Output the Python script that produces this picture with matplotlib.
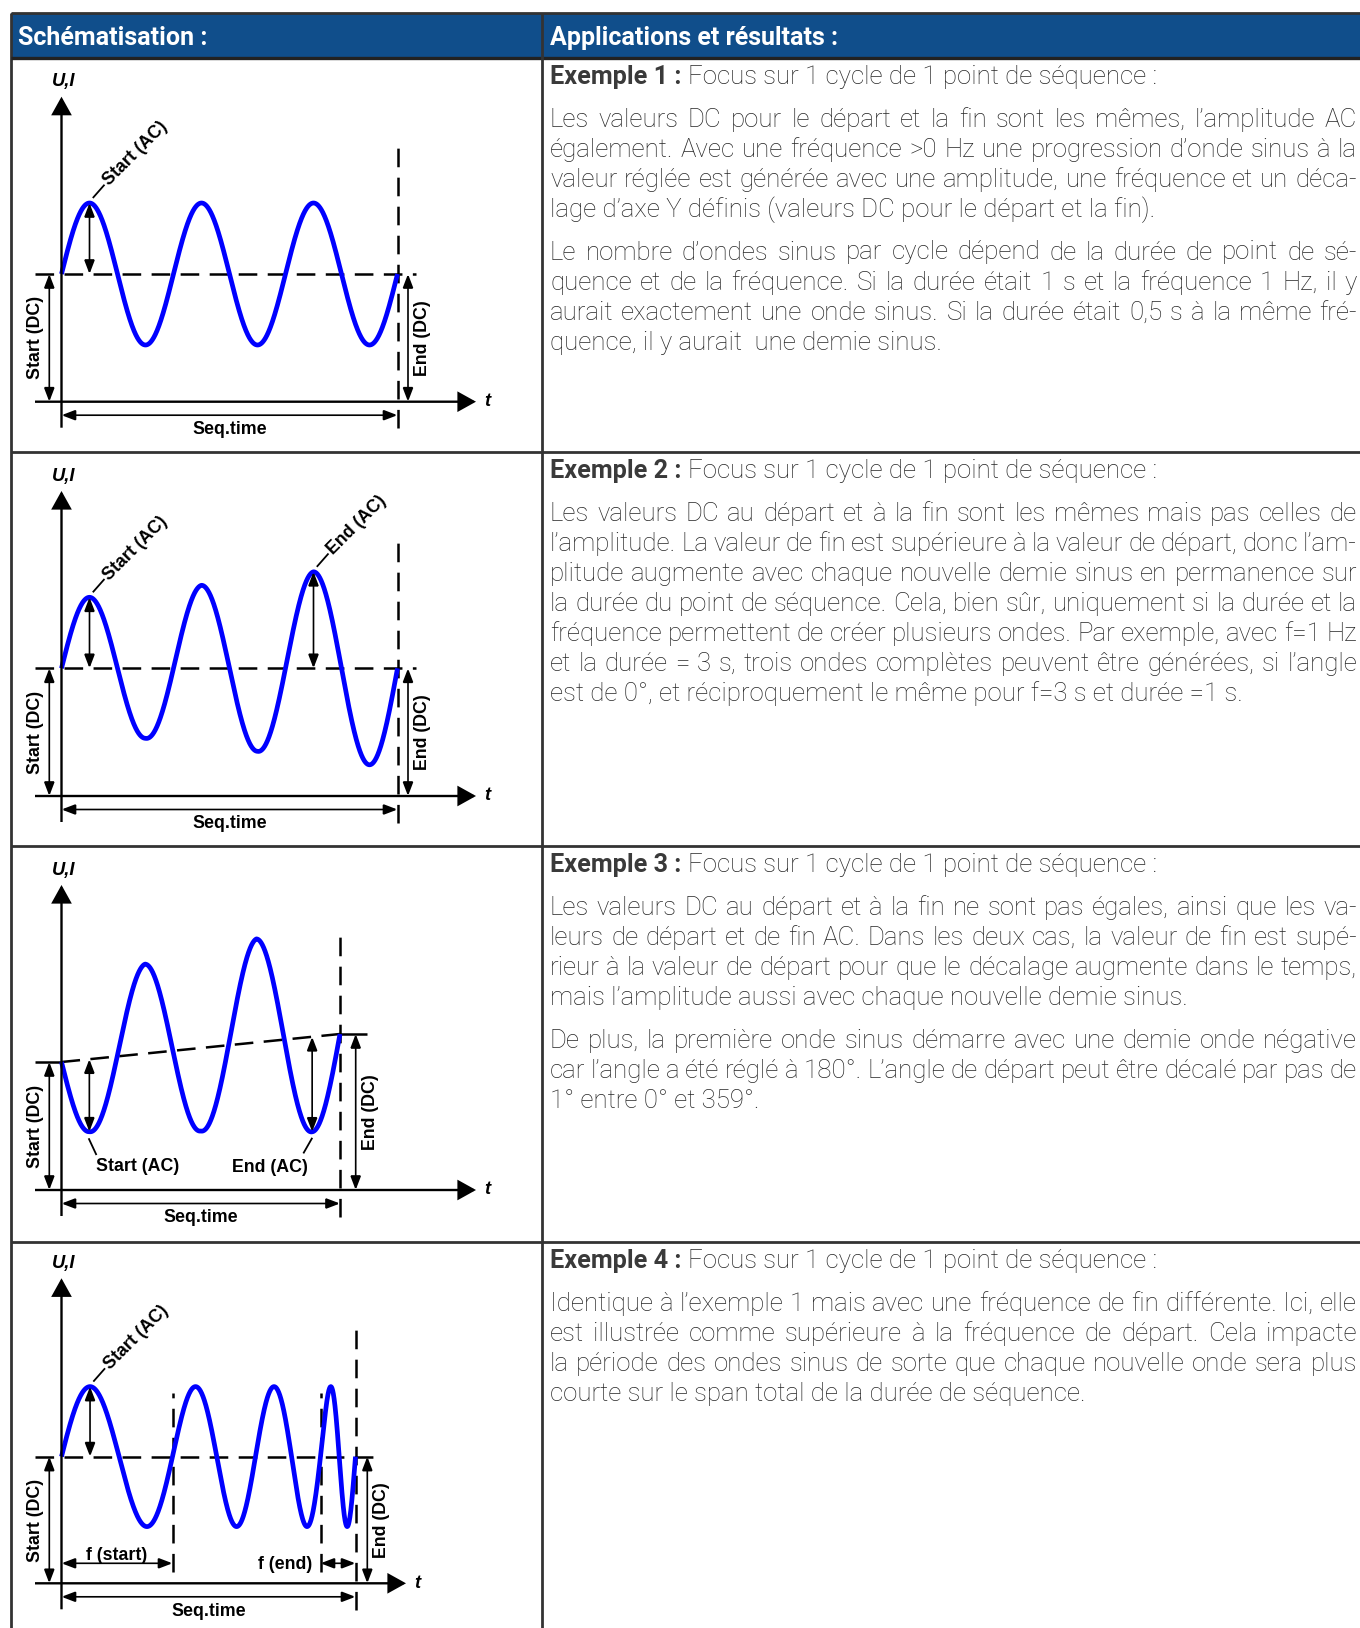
import numpy as np
import matplotlib
matplotlib.use("Agg")
import matplotlib.pyplot as plt
from matplotlib.patches import Rectangle, FancyArrowPatch

plt.rcParams['lines.scale_dashes'] = False
plt.rcParams['lines.solid_capstyle'] = 'butt'
plt.rcParams['lines.dash_capstyle'] = 'butt'

# ------------------------------------------------------------------ data
header_left = "Schématisation :"
header_right = "Applications et résultats :"

example_titles = ["Exemple 1 :", "Exemple 2 :", "Exemple 3 :", "Exemple 4 :"]
example_subtitle = "Focus sur 1 cycle de 1 point de séquence :"

example_1_text = [
    ["Les valeurs DC pour le départ et la fin sont les mêmes, l’amplitude AC",
     "également. Avec une fréquence >0 Hz une progression d’onde sinus à la",
     "valeur réglée est générée avec une amplitude, une fréquence et un déca-",
     "lage d’axe Y définis (valeurs DC pour le départ et la fin)."],
    ["Le nombre d’ondes sinus par cycle dépend de la durée de point de sé-",
     "quence et de la fréquence. Si la durée était 1 s et la fréquence 1 Hz, il y",
     "aurait exactement une onde sinus. Si la durée était 0,5 s à la même fré-",
     "quence, il y aurait  une demie sinus."],
]
example_2_text = [
    ["Les valeurs DC au départ et à la fin sont les mêmes mais pas celles de",
     "l’amplitude. La valeur de fin est supérieure à la valeur de départ, donc l’am-",
     "plitude augmente avec chaque nouvelle demie sinus en permanence sur",
     "la durée du point de séquence. Cela, bien sûr, uniquement si la durée et la",
     "fréquence permettent de créer plusieurs ondes. Par exemple, avec f=1 Hz",
     "et la durée = 3 s, trois ondes complètes peuvent être générées, si l’angle",
     "est de 0°, et réciproquement le même pour f=3 s et durée =1 s."],
]
example_3_text = [
    ["Les valeurs DC au départ et à la fin ne sont pas égales, ainsi que les va-",
     "leurs de départ et de fin AC. Dans les deux cas, la valeur de fin est supé-",
     "rieur à la valeur de départ pour que le décalage augmente dans le temps,",
     "mais l’amplitude aussi avec chaque nouvelle demie sinus."],
    ["De plus, la première onde sinus démarre avec une demie onde négative",
     "car l’angle a été réglé à 180°. L’angle de départ peut être décalé par pas de",
     "1° entre 0° et 359°."],
]
example_4_text = [
    ["Identique à l’exemple 1 mais avec une fréquence de fin différente. Ici, elle",
     "est illustrée comme supérieure à la fréquence de départ. Cela impacte",
     "la période des ondes sinus de sorte que chaque nouvelle onde sera plus",
     "courte sur le span total de la durée de séquence."],
]
example_texts = [example_1_text, example_2_text, example_3_text, example_4_text]

# waveform parameters per example (diagram units)
seq_time = [336.0, 336.0, 278.5, 294.0]
dc_start = [127.7, 127.7, 128.0, 126.7]
dc_end = [127.7, 127.7, 156.0, 126.7]
wave_count = [3.0, 3.0, 2.5, 4.0]
start_angle = [0, 0, 180, 0]
amp_ex1 = [71, 71, 71, 71, 71, 71]
amp_ex2 = [71, 70, 83, 83, 96.5, 96.5]
amp_ex3 = [72.5, 89.5, 83, 103.5, 95]
amp_ex4 = [70, 70, 70, 70, 70, 70, 70, 70]
periods_ex4 = [111, 83, 65, 35]

# ------------------------------------------------------------------ layout
W, H = 1360, 1628
TABLE_L, TABLE_T, HEAD_B, COL_X = 10.7, 13.3, 57.7, 541.5
row_tops = [57.7, 451.7, 846.0, 1241.7]
axis_y = [401.7, 796.0, 1190.0, 1583.3]
X0 = 61.5
T_START = 35.0
t_axis_end = [476, 476, 476, 406]
dc_line_end = [416, 416, 367, 377]
end_dc_x = [408, 408, 355.7, 367.3]

HEAD_BLUE = '#104E8B'
BORDER = '#333333'
WAVE = '#0000FF'
DASH = (0, (13.4, 7.5))
LW_DASH = 1.8
LW_AX = 1.7

DIAG = dict(family=['Liberation Sans', 'DejaVu Sans'], fontweight='bold',
            fontsize=12.8, color='black')
DIAG_I = dict(family=['Liberation Sans', 'DejaVu Sans'], fontweight='bold',
              style='italic', fontsize=13.2, color='black')
BODY = dict(family=['Roboto', 'DejaVu Sans'], fontweight='light',
            fontsize=18.6, color='#262626')
TITLE_B = dict(family=['Roboto', 'DejaVu Sans'], fontweight='bold',
               fontsize=18.2, color='#3a3a3a')
HEAD = dict(family=['Roboto', 'DejaVu Sans'], fontweight='bold',
            fontsize=18, color='white')

fig = plt.figure(figsize=(W / 100, H / 100), dpi=100)
ax = fig.add_axes([0, 0, 1, 1])
ax.set_xlim(0, W)
ax.set_ylim(H, 0)
ax.axis('off')
renderer = fig.canvas.get_renderer()

# ------------------------------------------------------------------ table
ax.add_patch(Rectangle((TABLE_L, TABLE_T), W + 20 - TABLE_L, HEAD_B - TABLE_T,
                       facecolor=HEAD_BLUE, edgecolor='none', zorder=0))
lw_b = 2.0
ax.plot([TABLE_L, TABLE_L], [TABLE_T, H + 5], color=BORDER, lw=lw_b)
ax.plot([TABLE_L, W + 5], [TABLE_T, TABLE_T], color=BORDER, lw=lw_b)
ax.plot([TABLE_L, W + 5], [HEAD_B, HEAD_B], color='#222222', lw=2.4)
for rt in row_tops[1:]:
    ax.plot([TABLE_L, W + 5], [rt, rt], color=BORDER, lw=lw_b)
ax.plot([COL_X, COL_X], [TABLE_T, H + 5], color=BORDER, lw=lw_b)

ax.text(18.3, 45, header_left, ha='left', va='baseline', **HEAD)
ax.text(550, 45, header_right, ha='left', va='baseline', **HEAD)


# ------------------------------------------------------------------ text helpers
def text_width(s, props):
    t = ax.text(0, 0, s, **props)
    w = t.get_window_extent(renderer=renderer).width
    t.remove()
    return w


def draw_line(xl, xr, y, line, props, justify):
    if not justify:
        ax.text(xl, y, line, ha='left', va='baseline', **props)
        return
    words = line.split(' ')
    ws = [text_width(w, props) for w in words]
    gap = (xr - xl - sum(ws)) / (len(words) - 1)
    x = xl
    for w, wd in zip(words, ws):
        ax.text(x, y, w, ha='left', va='baseline', **props)
        x += wd + gap


TXT_L, TXT_R = 550.0, 1357.0
LINE_H = 30.1
PARA_GAP = 12.4
for k, rt in enumerate(row_tops):
    yb = rt + 26.2
    ax.text(TXT_L, yb, example_titles[k], ha='left', va='baseline', **TITLE_B)
    wb = text_width(example_titles[k], TITLE_B)
    sp = text_width('a a', BODY) - text_width('aa', BODY)
    ax.text(TXT_L + wb + sp, yb, example_subtitle, ha='left', va='baseline', **BODY)
    y = rt + 69.0
    for p, para in enumerate(example_texts[k]):
        if p > 0:
            y += PARA_GAP
        for j, line in enumerate(para):
            draw_line(TXT_L, TXT_R, y, line, BODY, j < len(para) - 1)
            y += LINE_H


# ------------------------------------------------------------------ diagram helpers
def X(t):
    return X0 + np.asarray(t)


def Y(i, v):
    return axis_y[i] - np.asarray(v)


DIM = '<|-|>,head_length=0.84,head_width=0.32'
AXS = '-|>,head_length=1.08,head_width=0.6'


def arrow(x1, y1, x2, y2, style, lw=1.2, ms=10):
    p = FancyArrowPatch((x1, y1), (x2, y2), arrowstyle=style, mutation_scale=ms,
                        lw=lw, color='black', shrinkA=0, shrinkB=0,
                        joinstyle='miter', capstyle='butt', zorder=4)
    ax.add_patch(p)


def linear_cycles(i):
    return lambda t: np.asarray(t) / seq_time[i] * wave_count[i]


def hermite_cycles(periods):
    xs = np.concatenate([[0.0], np.cumsum(periods)])
    ys = np.arange(len(xs), dtype=float)
    per = np.asarray(periods, float)
    m = np.empty(len(xs))
    m[0] = 1.0 / per[0]
    m[-1] = 1.0 / per[-1]
    m[1:-1] = 2.0 / (per[:-1] + per[1:])

    def f(t):
        t = np.asarray(t, float)
        k = np.clip(np.searchsorted(xs, t, side='right') - 1, 0, len(per) - 1)
        h = xs[k + 1] - xs[k]
        s = (t - xs[k]) / h
        h00 = 2 * s**3 - 3 * s**2 + 1
        h10 = s**3 - 2 * s**2 + s
        h01 = -2 * s**3 + 3 * s**2
        h11 = s**3 - s**2
        return h00 * ys[k] + h10 * h * m[k] + h01 * ys[k + 1] + h11 * h * m[k + 1]
    return f


def wave(i, amps, cyc_fn):
    L = seq_time[i]
    t = np.linspace(0, L, 3000)
    cyc = cyc_fn(t)
    centres = 0.25 + 0.5 * np.arange(len(amps))
    A = np.interp(cyc, centres, amps)
    dc = dc_start[i] + (dc_end[i] - dc_start[i]) * t / L
    v = dc + A * np.sin(2 * np.pi * cyc + np.radians(start_angle[i]))
    return t, v, cyc, dc


def extremum(t, v, cyc, dc, c):
    te = np.interp(c, cyc, t)
    return te, np.interp(te, t, v), np.interp(te, t, dc)


def frame(i):
    ay = axis_y[i]
    L = seq_time[i]
    arrow(X0, ay + 26, X0, ay - 305, AXS, lw=LW_AX)
    ax.text(X0 + 2, ay - 320, 'U,I', ha='center', va='center', **DIAG_I)
    arrow(T_START, ay, t_axis_end[i], ay, AXS, lw=LW_AX)
    ax.text(t_axis_end[i] + 11.5, ay, 't', ha='center', va='center', **DIAG_I)
    ax.plot([X(L), X(L)], [ay + 26.5, ay - 256], color='k', lw=LW_DASH, linestyle=DASH, zorder=2)
    # start DC
    arrow(49.3, ay, 49.3, Y(i, dc_start[i]), DIM)
    ax.text(35, ay - dc_start[i] / 2, 'Start (DC)', rotation=90, ha='center', va='center', **DIAG)
    # end DC
    arrow(end_dc_x[i], ay, end_dc_x[i], Y(i, dc_end[i]), DIM)
    ax.text(end_dc_x[i] + 14.5, ay - dc_end[i] / 2, 'End (DC)', rotation=90,
            ha='center', va='center', **DIAG)
    # seq time
    arrow(X0, ay + 13.5, X(L), ay + 13.5, DIM)
    ax.text((X0 + X(L)) / 2, ay + 32.3, 'Seq.time', ha='center', va='baseline', **DIAG)


def ac_peak(i, te, ve, dce, label):
    x, y = X(te), Y(i, ve)
    arrow(x, Y(i, dce), x, y, DIM)
    ax.plot([x + 3.3, x + 15], [y - 5, y - 18.3], color='k', lw=1.3)
    ax.text(x + 16.5, y - 19.8, label, rotation=45, rotation_mode='anchor',
            ha='left', va='center', **DIAG)


def ac_trough(i, te, ve, dce, label, right):
    x, y = X(te), Y(i, ve)
    arrow(x, Y(i, dce), x, y, DIM)
    if right:
        ax.plot([x - 0.7, x + 7.1], [y + 6.6, y + 23.3], color='k', lw=1.3)
        ax.text(x + 48, y + 39.7, label, ha='center', va='baseline', **DIAG)
    else:
        ax.plot([x + 0.1, x - 8.8], [y + 6, y + 21.6], color='k', lw=1.3)
        ax.text(x - 42.4, y + 39.7, label, ha='center', va='baseline', **DIAG)


amps_all = [amp_ex1, amp_ex2, amp_ex3, amp_ex4]
for i in range(4):
    ay = axis_y[i]
    L = seq_time[i]
    frame(i)
    cyc_fn = hermite_cycles(periods_ex4) if i == 3 else linear_cycles(i)
    t, v, cyc, dc = wave(i, amps_all[i], cyc_fn)
    # DC reference line
    if dc_start[i] == dc_end[i]:
        ax.plot([T_START, dc_line_end[i]], [Y(i, dc_start[i])] * 2, color='k', lw=LW_DASH,
                linestyle=DASH, zorder=2)
    else:
        ax.plot([T_START, X0], [Y(i, dc_start[i])] * 2, color='k', lw=LW_DASH, zorder=2)
        ax.plot([X0, X(L)], [Y(i, dc_start[i]), Y(i, dc_end[i])], color='k', lw=LW_DASH,
                linestyle=DASH, zorder=2)
        ax.plot([X(L), dc_line_end[i]], [Y(i, dc_end[i])] * 2, color='k', lw=LW_DASH, zorder=2)
    ax.plot(X(t), Y(i, v), color=WAVE, lw=3.4, solid_capstyle='butt', zorder=3)

    if i in (0, 1, 3):
        te, ve, dce = extremum(t, v, cyc, dc, 0.25)
        ac_peak(i, te, ve, dce, 'Start (AC)')
    if i == 1:
        te, ve, dce = extremum(t, v, cyc, dc, 2.25)
        ac_peak(i, te, ve, dce, 'End (AC)')
    if i == 2:
        te, ve, dce = extremum(t, v, cyc, dc, 0.25)
        ac_trough(i, te, ve, dce, 'Start (AC)', True)
        te, ve, dce = extremum(t, v, cyc, dc, 2.25)
        ac_trough(i, te, ve, dce, 'End (AC)', False)
    if i == 3:
        b1 = X(periods_ex4[0])
        b2 = X(L - periods_ex4[-1])
        for bx in (b1, b2):
            ax.plot([bx, bx], [ay - 11.6, ay - 190.3], color='k', lw=LW_DASH,
                    linestyle=DASH, zorder=2)
        arrow(X0, ay - 20, b1, ay - 20, DIM)
        ax.text((X0 + b1) / 2, ay - 23.6, 'f (start)', ha='center', va='baseline', **DIAG)
        arrow(b2, ay - 20, X(L), ay - 20, DIM)
        ax.text(b2 - 8.5, ay - 14.5, 'f (end)', ha='right', va='baseline', **DIAG)

fig.savefig('out.png', dpi=100)
